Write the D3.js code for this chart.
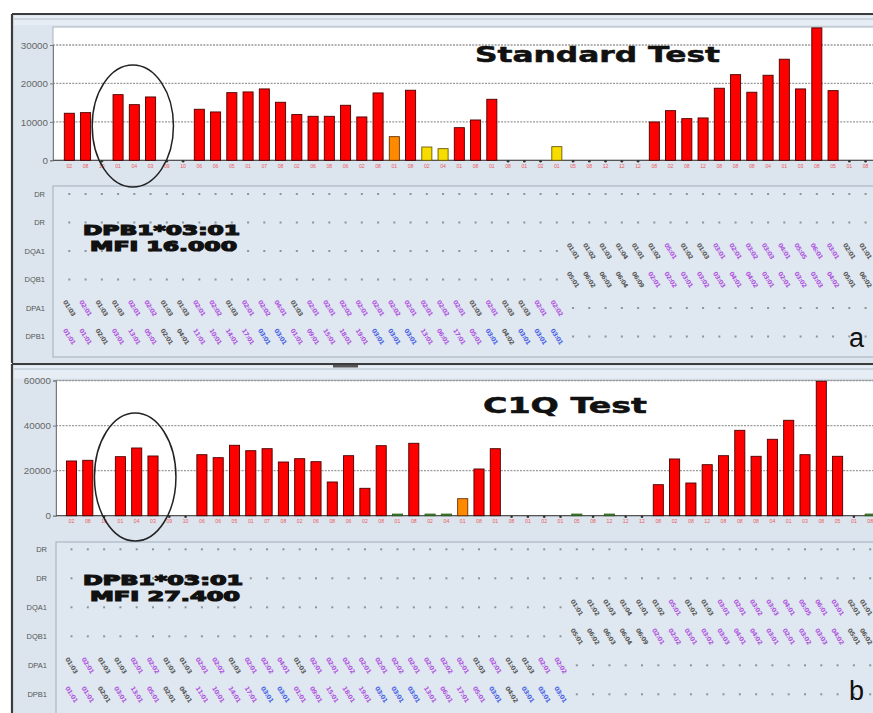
<!DOCTYPE html>
<html><head><meta charset="utf-8">
<script src="https://cdn.jsdelivr.net/npm/d3@7"></script>
<style>html,body{margin:0;padding:0;background:#fff;overflow:hidden}</style>
</head><body><svg id="c" width="873" height="713"></svg>
<script>
// ---------- DATA ----------
const xLabels = ["02","08","10","01","04","03","09","10","06","06","05","01","07","08","02","06","08","06","02","08","01","08","02","04","01","08","01","08","01","02","01","05","08","12","12","12","08","02","08","12","08","08","08","04","01","03","08","05","01","08"];
const standardValues = [12240,12400,0,17080,14480,16480,0,0,13280,12580,17600,17790,18570,15100,11900,11450,11450,14320,11280,17530,6150,18230,3460,3030,8490,10490,15880,0,0,0,3550,0,0,0,0,0,9970,12920,10840,11020,18750,22290,17710,22130,26300,18570,34450,18130,0,0];
const standardReaction = ["pos","pos","neg","pos","pos","pos","neg","neg","pos","pos","pos","pos","pos","pos","pos","pos","pos","pos","pos","pos","int","pos","low","low","pos","pos","pos","neg","neg","neg","low","neg","neg","neg","neg","neg","pos","pos","pos","pos","pos","pos","pos","pos","pos","pos","pos","pos","neg","neg"];
const c1qValues = [24280,24590,0,26190,30050,26500,0,0,27080,25750,31250,28850,29740,23830,25300,23970,14960,26630,12160,31070,600,32130,600,600,7550,20730,29740,0,0,0,0,600,0,600,0,0,13760,25170,14510,22640,26630,37900,26360,33910,42340,27080,59650,26360,0,600];
const c1qReaction = ["pos","pos","neg","pos","pos","pos","neg","neg","pos","pos","pos","pos","pos","pos","pos","pos","pos","pos","pos","pos","weak","pos","weak","weak","int","pos","pos","neg","neg","neg","neg","weak","neg","weak","neg","neg","pos","pos","pos","pos","pos","pos","pos","pos","pos","pos","pos","pos","neg","weak"];
const yTicksStandard = [0,10000,20000,30000];
const yTicksC1q = [0,20000,40000,60000];
const rowNames = ["DR","DR","DQA1","DQB1","DPA1","DPB1"];
// allele labels for beads 0..30 (DP rows) and 31..49 (DQ rows)
const dpa1Alleles = ["01:03","02:01","01:03","01:03","02:01","02:02","01:03","01:03","02:01","02:02","01:03","02:01","02:02","04:01","01:03","02:01","02:01","02:02","02:01","02:01","02:02","02:01","02:01","02:02","02:01","01:03","02:01","01:03","01:03","02:01","02:02"];
const dpa1Class = ["neg","pos","neg","neg","pos","pos","neg","neg","pos","pos","neg","pos","pos","pos","neg","pos","pos","pos","pos","pos","pos","pos","pos","pos","pos","neg","pos","neg","neg","pos","pos"];
const dpb1Alleles = ["01:01","01:01","02:01","03:01","13:01","05:01","02:01","04:01","11:01","10:01","14:01","17:01","03:01","03:01","01:01","09:01","15:01","18:01","19:01","03:01","03:01","03:01","13:01","06:01","17:01","05:01","03:01","04:02","03:01","03:01","03:01"];
const dpb1Class = ["pos","pos","neg","pos","pos","pos","neg","neg","pos","pos","pos","pos","epi","epi","pos","pos","pos","pos","pos","epi","epi","epi","pos","pos","pos","pos","epi","neg","epi","epi","epi"];
const dqa1Alleles = ["01:01","01:02","01:03","01:04","01:01","01:02","05:01","01:02","01:03","03:01","02:01","03:02","03:03","04:01","05:05","06:01","03:01","02:01","01:01"];
const dqa1Class = ["neg","neg","neg","neg","neg","neg","pos","neg","neg","pos","pos","pos","pos","pos","pos","pos","pos","neg","neg"];
const dqb1Alleles = ["05:01","06:02","06:03","06:04","06:09","02:01","02:02","03:01","03:02","03:03","04:01","04:02","03:01","02:01","03:02","03:03","04:02","05:01","06:02"];
const dqb1Class = ["neg","neg","neg","neg","neg","pos","pos","pos","pos","pos","pos","pos","pos","pos","pos","pos","pos","neg","neg"];
const antibodyLine = "DPB1*03:01";
const mfiStandard = "MFI 16.000";
const mfiC1q = "MFI 27.400";

// ---------- STYLE ----------
const reactFill = {pos:"#ff0000", int:"#ff8a00", low:"#f7dc00", weak:"#3d8a2a"};
const reactStroke = {pos:"#4a0000", int:"#6a3000", low:"#6a5a00", weak:"#2a5a1a"};
const alleleColor = {neg:"#5a5a5a", pos:"#b058e0", epi:"#4a62e6"};
const FONT = "Liberation Sans, Arial, sans-serif";

const svg = d3.select("#c");
const idx = d3.range(xLabels.length);

function drawPanel(cfg){
  const g = svg.append("g");
  // frame
  g.append("rect").attr("x",cfg.frameLeft).attr("y",cfg.frameTop).attr("width",900).attr("height",cfg.frameH)
    .attr("fill","#dce5ee");
  g.append("rect").attr("x",cfg.frameLeft+2).attr("y",cfg.frameTop+2).attr("width",900).attr("height",cfg.plotTop-cfg.frameTop-4)
    .attr("fill","#e6edf4");
  g.append("line").attr("x1",cfg.frameLeft+2).attr("x2",880).attr("y1",cfg.frameTop+5).attr("y2",cfg.frameTop+5).attr("stroke","#b3bfcb").attr("stroke-width",1);
  g.append("line").attr("x1",cfg.frameLeft).attr("x2",880).attr("y1",cfg.frameTop).attr("y2",cfg.frameTop).attr("stroke","#3c3c3c").attr("stroke-width",2.2);
  g.append("line").attr("x1",cfg.frameLeft).attr("x2",cfg.frameLeft).attr("y1",cfg.frameTop).attr("y2",cfg.frameTop+cfg.frameH).attr("stroke","#3c3c3c").attr("stroke-width",2.2);

  const x = d3.scaleBand().domain(idx).range(cfg.xRange).paddingInner(0.38).paddingOuter(0.19);
  const y = d3.scaleLinear().domain([0,cfg.yMax]).range([cfg.y0,cfg.yTop]);
  // plot area
  g.append("rect").attr("x",cfg.plotLeft).attr("y",cfg.plotTop).attr("width",900).attr("height",cfg.y0-cfg.plotTop)
    .attr("fill","#fff").attr("stroke","#a9b3bd").attr("stroke-width",1);
  // grid
  g.selectAll(".grid").data(cfg.ticks.filter(t=>t>0)).join("line")
    .attr("x1",cfg.plotLeft).attr("x2",880).attr("y1",d=>y(d)).attr("y2",d=>y(d))
    .attr("stroke","#9a9a9a").attr("stroke-width",1.3).attr("stroke-dasharray","2,1.2");
  // y axis
  const ya = d3.axisLeft(y).tickValues(cfg.ticks).tickSize(3).tickPadding(2).tickFormat(d3.format("d"));
  const yg = g.append("g").attr("transform",`translate(${cfg.plotLeft},0)`).call(ya);
  yg.select(".domain").attr("stroke","#7a7a7a");
  yg.selectAll(".tick line").attr("stroke","#7a7a7a");
  yg.selectAll(".tick text").attr("fill","#666").attr("font-size",9.8).attr("font-family",FONT);
  // baseline
  g.append("line").attr("x1",cfg.plotLeft).attr("x2",880).attr("y1",cfg.y0).attr("y2",cfg.y0).attr("stroke","#555").attr("stroke-width",1.2);
  // x axis labels
  const xa = d3.axisBottom(x).tickSize(0).tickPadding(4).tickFormat(i=>xLabels[i]);
  const xg = g.append("g").attr("transform",`translate(0,${cfg.y0})`).call(xa);
  xg.select(".domain").remove();
  xg.selectAll(".tick text").attr("fill","#ec5a60").attr("font-size",5.2).attr("font-family",FONT);
  // bars
  const bars = idx.filter(i=>cfg.react[i]!=="neg");
  g.selectAll(".bar").data(bars).join("rect")
    .attr("x",i=>x(i)).attr("width",x.bandwidth())
    .attr("y",i=>Math.min(y(cfg.values[i]), cfg.y0-1.6))
    .attr("height",i=>Math.max(cfg.y0-y(cfg.values[i]),1.6))
    .attr("fill",i=>reactFill[cfg.react[i]]).attr("stroke",i=>reactStroke[cfg.react[i]]).attr("stroke-width",0.9);
  g.selectAll(".negdot").data(idx.filter(i=>cfg.react[i]==="neg")).join("circle")
    .attr("cx",i=>x(i)+x.bandwidth()/2).attr("cy",cfg.y0+1).attr("r",1.3).attr("fill","#333");

  // lower assignment box
  g.append("rect").attr("x",cfg.plotLeft).attr("y",cfg.boxTop).attr("width",900).attr("height",cfg.boxH)
    .attr("fill","#dfe7f0").attr("stroke","#aab7c4").attr("stroke-width",1.2);
  const rowY = r => cfg.rowY0 + r*cfg.rowStep;
  g.selectAll(".rowname").data(rowNames).join("text")
    .attr("x",cfg.rowLabelX).attr("y",(d,r)=>rowY(r)+2.5).attr("text-anchor","end")
    .attr("font-size",7.5).attr("fill","#555").attr("font-family",FONT).text(d=>d);
  const cells = [];
  rowNames.forEach((rn,r)=>{
    idx.forEach(i=>{
      let lab=null, cls=null;
      if(r===2 && i>=31){lab=dqa1Alleles[i-31]; cls=dqa1Class[i-31];}
      if(r===3 && i>=31){lab=dqb1Alleles[i-31]; cls=dqb1Class[i-31];}
      if(r===4 && i<=30){lab=dpa1Alleles[i]; cls=dpa1Class[i];}
      if(r===5 && i<=30){lab=dpb1Alleles[i]; cls=dpb1Class[i];}
      cells.push({r,i,lab,cls});
    });
  });
  g.selectAll(".cdot").data(cells.filter(c=>!c.lab)).join("rect")
    .attr("x",c=>x(c.i)+x.bandwidth()/2-1).attr("y",c=>rowY(c.r)-1).attr("width",2).attr("height",2).attr("fill","#8f949b");
  g.selectAll(".allele").data(cells.filter(c=>c.lab)).join("text")
    .attr("transform",c=>`translate(${Math.min(x(c.i)+x.bandwidth()/2, 866)},${rowY(c.r)}) rotate(58)`)
    .attr("text-anchor","middle").attr("dy","0.35em")
    .attr("font-size",6.2).attr("font-weight","bold").attr("font-family","DejaVu Sans, sans-serif")
    .attr("letter-spacing",-0.4)
    .attr("fill",c=>alleleColor[c.cls]).text(c=>c.lab);

  // titles & annotations
  g.append("text").attr("x",cfg.titleX).attr("y",cfg.titleY).attr("font-size",21).attr("font-weight","bold")
    .attr("font-family","DejaVu Sans, Arial, sans-serif").attr("fill","#111").attr("stroke","#111").attr("stroke-width",0.5)
    .attr("textLength",cfg.titleW).attr("lengthAdjust","spacingAndGlyphs").text(cfg.title);
  const annStyle = t => t.attr("font-size",13.3).attr("font-weight","bold")
    .attr("font-family","DejaVu Sans, Arial, sans-serif").attr("fill","#111").attr("stroke","#111").attr("stroke-width",1.1)
    .attr("lengthAdjust","spacingAndGlyphs");
  g.append("text").call(annStyle).attr("x",83).attr("y",cfg.annY).attr("textLength",cfg.annW1).text(antibodyLine);
  g.append("text").call(annStyle).attr("x",90).attr("y",cfg.annY+15.5).attr("textLength",cfg.annW2).text(cfg.mfi);
  g.append("text").attr("x",849).attr("y",cfg.letterY).attr("font-size",27)
    .attr("font-family",FONT).attr("fill","#111").text(cfg.letter);
  // ellipse around circled beads
  const cx = x(4)+x.bandwidth()/2 - 1.5;
  g.append("ellipse").attr("cx",cx).attr("cy",cfg.ellCy).attr("rx",x.step()*2.5).attr("ry",cfg.ellRy)
    .attr("fill","none").attr("stroke","#222").attr("stroke-width",1.5);
}

drawPanel({frameLeft:12, frameTop:14, frameH:349, plotTop:27, plotLeft:53, xRange:[61.2,873.7],
  y0:160.3, yTop:45, yMax:30000, ticks:yTicksStandard, values:standardValues, react:standardReaction,
  boxTop:186, boxH:171, rowY0:194, rowStep:28.5, rowLabelX:45,
  title:"Standard Test", titleX:475, titleY:62, titleW:245, annY:235, annW1:157, annW2:147, mfi:mfiStandard,
  letter:"a", letterY:347, ellCy:126, ellRy:61});
drawPanel({frameLeft:12, frameTop:364, frameH:360, plotTop:380.5, plotLeft:56, xRange:[63.35,878.35],
  y0:515.7, yTop:380.5, yMax:60000, ticks:yTicksC1q, values:c1qValues, react:c1qReaction,
  boxTop:542, boxH:190, rowY0:549.3, rowStep:29, rowLabelX:47,
  title:"C1Q Test", titleX:483, titleY:413, titleW:164, annY:585, annW1:160, annW2:150, mfi:mfiC1q,
  letter:"b", letterY:700, ellCy:477, ellRy:64});
// splitter grip between panels
svg.append("rect").attr("x",333).attr("y",365).attr("width",25).attr("height",2.5).attr("fill","#555");
</script></body></html>
